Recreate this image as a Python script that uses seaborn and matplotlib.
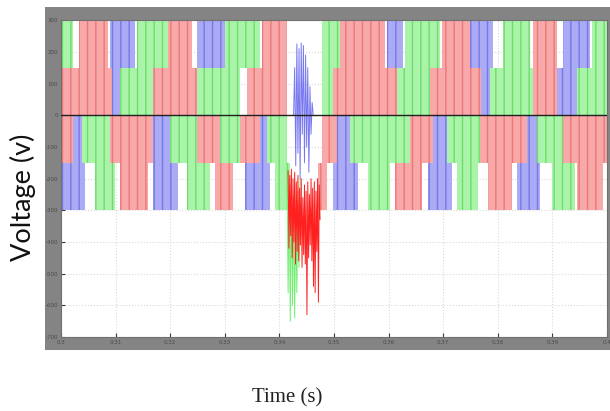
import numpy as np
import pandas as pd
import seaborn as sns
import matplotlib.pyplot as plt
from matplotlib.patches import Rectangle

sns.set_theme(style="white")
plt.rcParams['hatch.linewidth'] = 1.0

# band levels (V) of the five-level output
band_levels = {"top": (150, 300), "upmid": (0, 150), "lowmid": (-150, 0), "bottom": (-300, -150)}

# switching blocks, times in ms from 0.30 s
top_start = [0.2, 3.3, 9.0, 13.9, 19.6, 24.9, 30.0, 36.8, 47.8, 51.1, 59.7, 63.0, 69.8, 74.9, 81.0, 86.4, 91.9, 97.3]
top_end = [2.2, 8.6, 13.6, 19.6, 24.0, 30.0, 36.4, 41.4, 51.1, 59.3, 62.6, 69.4, 74.9, 79.1, 85.9, 90.8, 96.9, 100.0]
top_phase = list("GRBGRBGRGRBGRBGRBG")

upmid_start = [0.2, 9.3, 10.8, 16.8, 24.9, 34.1, 47.8, 49.8, 61.5, 67.6, 76.9, 78.6, 86.4, 90.8, 94.5]
upmid_end = [9.3, 10.8, 16.8, 24.9, 32.8, 41.4, 49.8, 61.5, 67.6, 76.9, 78.6, 86.4, 90.8, 94.5, 100.0]
upmid_phase = list("RBGRGRGRGRBGRBG")

lowmid_start = [0.2, 2.2, 3.8, 9.0, 16.8, 20.0, 24.9, 29.1, 32.8, 36.4, 37.7, 47.8, 50.5, 52.9, 63.9, 68.1, 70.7, 76.7, 85.3, 87.2, 91.9]
lowmid_end = [2.2, 3.8, 9.0, 16.8, 20.0, 24.9, 29.1, 32.8, 36.4, 37.7, 41.4, 50.5, 52.9, 63.9, 68.1, 70.7, 76.7, 85.3, 87.2, 91.9, 100.0]
lowmid_phase = list("RBGRBGRGRBGRBGRBGRBGR")

bottom_start = [0.2, 6.2, 10.8, 16.8, 23.1, 28.2, 33.7, 39.2, 47.1, 49.8, 56.2, 61.2, 67.2, 72.5, 78.2, 83.5, 89.9, 94.5]
bottom_end = [4.4, 9.9, 15.9, 21.4, 27.3, 31.5, 38.3, 41.9, 48.7, 54.4, 60.3, 66.1, 71.6, 76.4, 82.6, 87.7, 94.1, 99.3]
bottom_phase = list("BGRBGRBGRBGRBGRBGR")

# fault transient (ms, V)
red_t = [41.6, 41.75, 41.9, 42.05, 42.2, 42.35, 42.5, 42.65, 42.8, 42.95, 43.1, 43.25, 43.4, 43.55, 43.7,
         43.85, 44.0, 44.15, 44.3, 44.45, 44.6, 44.75, 44.9, 45.05, 45.2, 45.35, 45.5, 45.65, 45.8, 45.95,
         46.1, 46.25, 46.4, 46.55, 46.7, 46.85, 47.0, 47.15, 47.3, 47.45]
red_v = [-175, -420, -190, -380, -170, -450, -200, -400, -180, -470, -210, -430, -190, -460, -230,
         -410, -200, -480, -260, -440, -220, -470, -240, -630, -210, -450, -250, -410, -200, -460,
         -230, -540, -210, -560, -240, -430, -200, -590, -220, -330]
green_t = [41.4, 41.6, 41.8, 42.0, 42.2, 42.4, 42.6, 42.8, 43.0, 43.2, 43.4, 43.6, 43.8]
green_v = [-150, -560, -220, -650, -190, -600, -260, -640, -300, -560, -240, -480, -200]
blue_t = [42.6, 42.8, 43.0, 43.2, 43.4, 43.6, 43.8, 44.0, 44.2, 44.4, 44.6, 44.8, 45.0, 45.2, 45.4, 45.6, 45.8, 46.0, 46.2]
blue_v = [0, 150, -160, 225, -120, 210, -200, 228, -60, 220, -150, 190, -100, 150, -180, 90, -60, 40, 0]

x_ticks = [0.30, 0.31, 0.32, 0.33, 0.34, 0.35, 0.36, 0.37, 0.38, 0.39, 0.40]
y_ticks = [300, 200, 100, 0, -100, -200, -300, -400, -500, -600, -700]

face = {"R": "#f8a8a8", "G": "#aaf4aa", "B": "#ababf5"}
edge = {"R": "#eb7878", "G": "#6ddc6d", "B": "#7777e8"}

rows = []
for band, st, en, ph in [("top", top_start, top_end, top_phase),
                         ("upmid", upmid_start, upmid_end, upmid_phase),
                         ("lowmid", lowmid_start, lowmid_end, lowmid_phase),
                         ("bottom", bottom_start, bottom_end, bottom_phase)]:
    for s, e, p in zip(st, en, ph):
        rows.append({"band": band, "start": 0.3 + s / 1000, "end": 0.3 + e / 1000, "phase": p})
blocks = pd.DataFrame(rows)

fig = plt.figure(figsize=(6.1, 4.11), dpi=100)
fig.patches.append(Rectangle((0.074, 0.149), 0.926, 0.835, transform=fig.transFigure,
                             facecolor="#848484", edgecolor="none", zorder=-10))
ax = fig.add_axes([0.1, 0.18, 0.895, 0.771])
ax.set_facecolor("white")

for _, b in blocks.iterrows():
    lo, hi = band_levels[b["band"]]
    ax.bar(b["start"], hi - lo, width=b["end"] - b["start"], bottom=lo, align="edge",
           facecolor=face[b["phase"]], edgecolor=edge[b["phase"]], hatch="||", linewidth=0, zorder=2)

fault = pd.concat([
    pd.DataFrame({"t": 0.3 + np.array(green_t) / 1000, "v": green_v, "phase": "G"}),
    pd.DataFrame({"t": 0.3 + np.array(blue_t) / 1000, "v": blue_v, "phase": "B"}),
    pd.DataFrame({"t": 0.3 + np.array(red_t) / 1000, "v": red_v, "phase": "R"}),
])
sns.lineplot(data=fault, x="t", y="v", hue="phase", palette={"R": "#ff2020", "G": "#70ee70", "B": "#7878f0"},
             estimator=None, sort=False, linewidth=0.7, legend=False, ax=ax, zorder=4)

ax.axhline(0, color="#202020", linewidth=1.0, zorder=5)

ax.set_xlim(0.30, 0.40)
ax.set_ylim(-700, 300)
ax.set_xticks(x_ticks)
ax.set_yticks(y_ticks)
ax.set_xticklabels([f"{v:g}" for v in x_ticks])
ax.set_yticklabels([str(v) for v in y_ticks])
ax.grid(True, color="#d8d8d8", linestyle=":", linewidth=0.8, zorder=1)
ax.set_axisbelow(True)
ax.tick_params(axis="both", direction="in", length=3, width=0.8, colors="#3a3a3a",
               labelsize=4, labelcolor="#4a4a4a", pad=2, left=True, bottom=True)
for s in ax.spines.values():
    s.set_color("#707070")
    s.set_linewidth(0.8)
ax.set_xlabel("")
ax.set_ylabel("")

fig.text(0.037, 0.52, "Voltage (v)", rotation=90, ha="center", va="center",
         fontsize=19.5, family=["Lato", "DejaVu Sans"], color="#111111")
fig.text(0.47, 0.033, "Time (s)", ha="center", va="center",
         fontsize=15, family=["Liberation Serif", "DejaVu Serif"], color="#222222")

fig.savefig("out.png", dpi=100)
